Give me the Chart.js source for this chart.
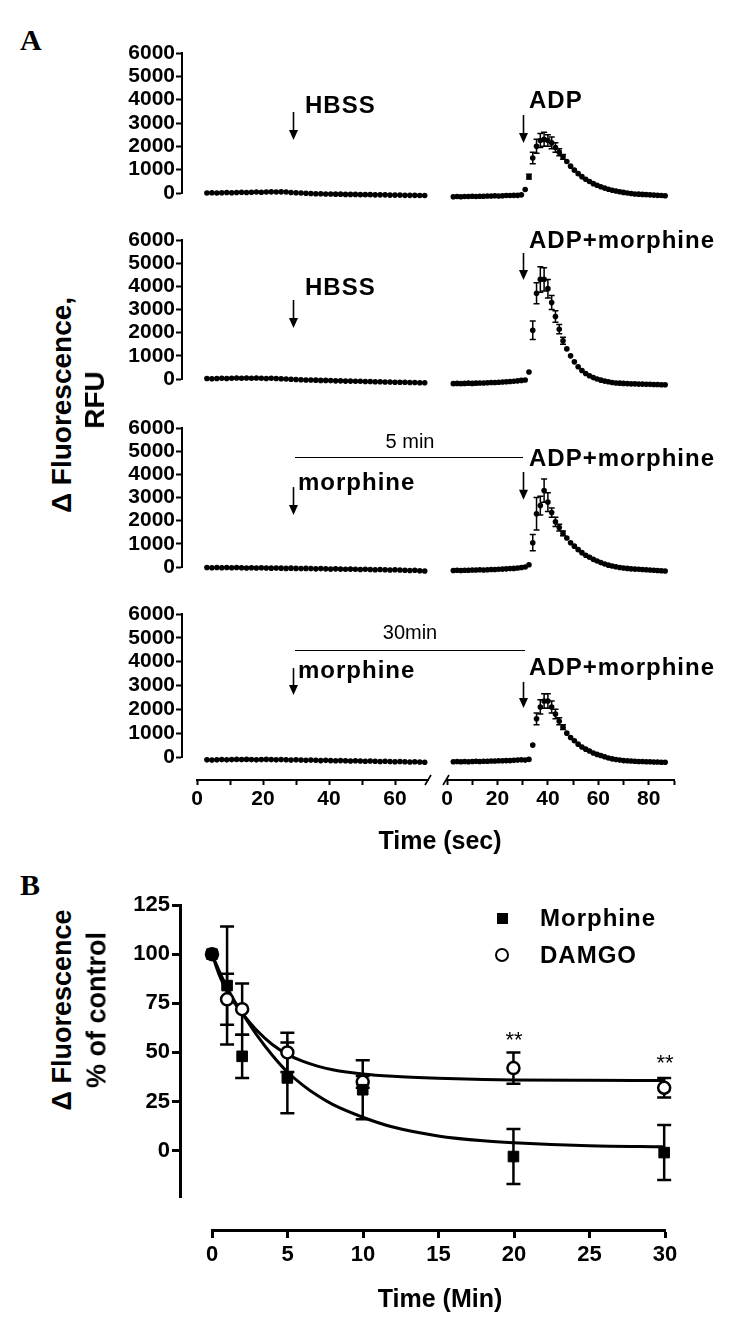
<!DOCTYPE html>
<html>
<head>
<meta charset="utf-8">
<script src="https://cdn.jsdelivr.net/npm/chart.js"></script>
<style>
  body { margin: 0; background: #fff; }
  #fig { position: relative; width: 750px; height: 1334px; background: #fff; overflow: hidden;
         font-family: "Liberation Sans", Arial, Helvetica, sans-serif; color: #000; }
  canvas { position: absolute; }
  .t { position: absolute; white-space: nowrap; line-height: 1; transform: translateY(-50%); }
  .c { transform: translate(-50%, -50%); }
  .rot { position: absolute; white-space: nowrap; line-height: 1; font-weight: bold;
         transform: translate(-50%, -50%) rotate(-90deg); }
  .hl { position: absolute; height: 0; border-top: 1.5px solid #000; }
</style>
</head>
<body>
<div id="fig"></div>
<script>
// ---- Panel A data (time in sec, delta fluorescence in RFU) ----
const leftTime = [3,4.5,6,7.5,9,10.5,12,13.5,15,16.5,18,19.5,21,22.5,24,25.5,27,28.5,30,31.5,33,34.5,36,37.5,39,40.5,42,43.5,45,46.5,48,49.5,51,52.5,54,55.5,57,58.5,60,61.5,63,64.5,66,67.5,69];
const rightTime = [2.5,4,5.5,7,8.5,10,11.5,13,14.5,16,17.5,19,20.5,22,23.5,25,26.5,28,29.5,31,32.5,34,35.5,37,38.5,40,41.5,43,44.5,46,47.5,49,50.5,52,53.5,55,56.5,58,59.5,61,62.5,64,65.5,67,68.5,70,71.5,73,74.5,76,77.5,79,80.5,82,83.5,85,86.5];
const peakTime = [32.5,34,35.5,37,38.5,40,41.5,43,44.5,46];

// row 1: HBSS then ADP
const row1Left = [0,10,0,10,20,10,20,30,20,30,40,30,40,50,40,50,40,20,10,0,-10,-20,-30,-30,-40,-40,-50,-50,-60,-60,-60,-70,-70,-70,-80,-80,-80,-90,-90,-90,-100,-100,-100,-110,-110];
const row1Right = [-160,-150,-160,-150,-150,-140,-150,-140,-140,-130,-130,-120,-130,-120,-110,-110,-100,-100,-80,150,700,1500,2000,2250,2300,2250,2150,1950,1750,1550,1350,1150,980,830,700,590,490,400,330,270,210,160,120,85,55,25,0,-20,-40,-50,-60,-70,-80,-90,-100,-110,-120];
const row1Err = [100,250,300,300,300,250,250,200,150,100];

// row 2: HBSS then ADP+morphine
const row2Left = [20,10,20,30,20,30,40,30,40,30,40,30,20,30,20,10,0,-10,-20,-30,-40,-40,-50,-60,-60,-70,-80,-80,-90,-90,-100,-100,-110,-110,-120,-120,-130,-130,-140,-140,-140,-150,-150,-160,-160];
const row2Right = [-200,-190,-200,-190,-180,-190,-180,-170,-170,-160,-150,-150,-140,-130,-120,-110,-100,-80,-60,-40,300,2100,3700,4300,4300,3900,3300,2700,2150,1650,1300,1000,740,530,370,240,140,60,0,-50,-90,-120,-150,-170,-180,-190,-200,-210,-210,-220,-220,-230,-230,-240,-240,-250,-250];
const row2Err = [0,400,450,550,500,400,300,250,200,150];

// row 3: morphine 5 min, then ADP+morphine
const row3Left = [-20,-30,-20,-30,-20,-30,-20,-30,-40,-30,-40,-30,-40,-50,-40,-50,-60,-50,-60,-70,-60,-70,-80,-70,-80,-90,-80,-90,-100,-90,-100,-110,-100,-110,-120,-110,-120,-130,-120,-130,-140,-150,-140,-160,-170];
const row3Right = [-150,-140,-150,-140,-140,-130,-130,-120,-130,-120,-110,-110,-100,-90,-80,-70,-60,-40,-20,0,100,1050,2300,2650,3300,2800,2350,1950,1700,1450,1250,1050,900,750,620,510,420,330,260,190,130,80,40,10,-20,-40,-60,-80,-90,-100,-110,-120,-130,-140,-150,-160,-170];
const row3Err = [0,350,700,400,500,400,200,200,150,100];

// row 4: morphine 30 min, then ADP+morphine
const row4Left = [-120,-130,-120,-110,-120,-110,-100,-110,-100,-110,-120,-110,-100,-110,-120,-110,-120,-130,-120,-130,-140,-130,-140,-150,-140,-150,-160,-150,-160,-170,-160,-170,-180,-170,-180,-190,-180,-190,-200,-190,-200,-210,-200,-210,-220];
const row4Right = [-200,-190,-200,-190,-200,-190,-180,-190,-180,-180,-170,-170,-160,-160,-150,-150,-140,-130,-120,-130,-100,500,1600,2100,2350,2350,2100,1800,1500,1250,1000,820,680,540,420,330,250,170,110,60,10,-40,-80,-110,-130,-150,-160,-170,-180,-190,-190,-200,-200,-210,-210,-220,-220];
const row4Err = [0,0,250,300,300,300,250,200,150,100];

const yTicksA = [0, 1000, 2000, 3000, 4000, 5000, 6000];

// ---- Panel B data (time in min, % of control) ----
const bTime = [0, 1, 2, 5, 10, 20, 30];
const morphine = [100, 84, 48, 37, 31, -3, -1];
const morphineErr = [0, 30, 11, 18, 15, 14, 14];
const damgo = [100, 77, 72, 50, 35, 42, 32];
const damgoErr = [0, 13, 13, 10, 3, 8, 5];
const fitTime = [0, 0.5, 1, 1.5, 2, 3, 4, 5, 6, 7, 8, 10, 12, 15, 18, 20, 25, 30];
const morphineFit = [100, 91, 83, 76, 70, 58.5, 48.5, 40, 33.5, 28, 23.5, 17, 12, 7.5, 5, 4, 2.5, 2];
const damgoFit = [100, 89, 81, 75, 70, 61, 54, 49, 45.5, 43, 41.2, 39, 37.8, 36.8, 36.2, 36, 35.8, 35.7];

const FONT = '"Liberation Sans", Arial, Helvetica, sans-serif';
const fig = document.getElementById('fig');

function makeCanvas(left, top, w, h) {
  const c = document.createElement('canvas');
  c.width = w; c.height = h;
  c.style.left = left + 'px'; c.style.top = top + 'px';
  c.style.width = w + 'px'; c.style.height = h + 'px';
  fig.appendChild(c);
  return c;
}

function addText(txt, x, y, size, opts = {}) {
  const d = document.createElement('div');
  d.className = opts.center ? 't c' : 't';
  d.textContent = txt;
  d.style.left = x + 'px'; d.style.top = y + 'px';
  d.style.fontSize = size + 'px';
  d.style.fontWeight = opts.normal ? 'normal' : 'bold';
  if (opts.family) d.style.fontFamily = opts.family;
  if (opts.spacing) d.style.letterSpacing = opts.spacing + 'px';
  fig.appendChild(d);
  return d;
}

function addRotated(txt, cx, cy, size) {
  const d = document.createElement('div');
  d.className = 'rot';
  d.textContent = txt;
  d.style.left = cx + 'px'; d.style.top = cy + 'px';
  d.style.fontSize = size + 'px';
  fig.appendChild(d);
}

function addLine(x1, x2, y) {
  const d = document.createElement('div');
  d.className = 'hl';
  d.style.left = x1 + 'px'; d.style.top = y + 'px'; d.style.width = (x2 - x1) + 'px';
  fig.appendChild(d);
}

function toPoints(xs, ys) {
  return xs.map((x, i) => ({ x: x, y: ys[i] }));
}

// error bars for one dataset, drawn under the markers
function errorBars(dsIndex, times, errs, cap, width) {
  return {
    id: 'errorBars' + dsIndex,
    beforeDatasetsDraw(chart) {
      const { ctx, scales: { x, y } } = chart;
      const pts = chart.data.datasets[dsIndex].data;
      ctx.save();
      ctx.strokeStyle = '#000';
      ctx.lineWidth = width;
      times.forEach((t, i) => {
        const p = pts.find(d => d.x === t);
        if (!p || !errs[i]) return;
        const px = x.getPixelForValue(t);
        const y1 = y.getPixelForValue(p.y + errs[i]);
        const y2 = y.getPixelForValue(p.y - errs[i]);
        ctx.beginPath();
        ctx.moveTo(px, y1); ctx.lineTo(px, y2);
        ctx.moveTo(px - cap, y1); ctx.lineTo(px + cap, y1);
        ctx.moveTo(px - cap, y2); ctx.lineTo(px + cap, y2);
        ctx.stroke();
      });
      ctx.restore();
    }
  };
}

// down arrow marking the addition time
function arrowMark(t, yTop, yBot) {
  return {
    id: 'arrowMark',
    afterDraw(chart) {
      const { ctx, scales: { x, y } } = chart;
      const px = Math.round(x.getPixelForValue(t)) + 0.5;
      const a = y.getPixelForValue(yTop), b = y.getPixelForValue(yBot);
      ctx.save();
      ctx.strokeStyle = '#000'; ctx.fillStyle = '#000'; ctx.lineWidth = 1.6;
      ctx.beginPath(); ctx.moveTo(px, a); ctx.lineTo(px, b - 8); ctx.stroke();
      ctx.beginPath(); ctx.moveTo(px - 4.5, b - 10); ctx.lineTo(px + 4.5, b - 10); ctx.lineTo(px, b); ctx.closePath(); ctx.fill();
      ctx.restore();
    }
  };
}

const baseOpts = { responsive: false, animation: false, events: [],
  plugins: { legend: { display: false }, tooltip: { enabled: false } } };

// dots a few px below the zero line sit outside the chart area, so give them a wide margin
// (this also makes Chart.js keep at least 14px padding on every side)
function dotSet(xs, ys) {
  return { data: toPoints(xs, ys), showLine: false, pointRadius: 2.8, pointHoverRadius: 14,
           pointBackgroundColor: '#000', pointBorderWidth: 0, clip: false };
}

// ---- Panel A rows ----
const rows = [
  { top: 53, h: 140, left: row1Left, right: row1Right, err: row1Err, arrL: [29, 3470, 2270], arrR: [30, 3340, 2140] },
  { top: 240, h: 139, left: row2Left, right: row2Right, err: row2Err, arrL: [29, 3410, 2200], arrR: [30, 5440, 4270] },
  { top: 428, h: 139, left: row3Left, right: row3Right, err: row3Err, arrL: [29, 3450, 2240], arrR: [30, 4100, 2900] },
  { top: 614, h: 143, left: row4Left, right: row4Right, err: row4Err, arrL: [29, 3730, 2600], arrR: [30, 3150, 2060] }
];

rows.forEach(r => {
  const cTop = r.top - 14;
  const cH = r.h + 30;
  // chart area 182..428 px on the page
  new Chart(makeCanvas(100, cTop, 344, cH), {
    type: 'scatter',
    data: { datasets: [dotSet(leftTime, r.left)] },
    options: Object.assign({}, baseOpts, {
      layout: { padding: { top: 14, bottom: 16, left: 0, right: 16 } },
      scales: {
        x: { type: 'linear', min: -4.55, max: 70, display: false },
        y: {
          min: 0, max: 6000,
          afterBuildTicks(s) { s.ticks = yTicksA.map(v => ({ value: v })); },
          afterFit(s) { s.width = 82; },
          ticks: { autoSkip: false, color: '#000', padding: 1, font: { family: FONT, weight: 'bold', size: 21 },
                   callback: v => String(v) },
          grid: { drawOnChartArea: false, tickLength: 6, tickWidth: 2, tickColor: '#000' },
          border: { color: '#000', width: 2 }
        }
      }
    }),
    plugins: [arrowMark(r.arrL[0], r.arrL[1], r.arrL[2])]
  });
  // chart area 447..674 px on the page
  new Chart(makeCanvas(430, cTop, 262, cH), {
    type: 'scatter',
    data: { datasets: [dotSet(rightTime, r.right)] },
    options: Object.assign({}, baseOpts, {
      layout: { padding: { top: 14, bottom: 16, left: 17, right: 18 } },
      scales: {
        x: { type: 'linear', min: 0, max: 90, display: false },
        y: { min: 0, max: 6000, display: false }
      }
    }),
    plugins: [errorBars(0, peakTime, r.err, 3, 1.5), arrowMark(r.arrR[0], r.arrR[1], r.arrR[2])]
  });
});

// ---- Panel A broken time axis ----
function breakMark(side) {
  return {
    id: 'breakMark',
    afterDraw(chart) {
      const { ctx, chartArea: ca } = chart;
      const x = side === 'right' ? ca.right : ca.left - 1;
      ctx.save(); ctx.strokeStyle = '#000'; ctx.lineWidth = 1.6;
      ctx.beginPath(); ctx.moveTo(x - 3, ca.bottom + 5); ctx.lineTo(x + 3, ca.bottom - 5); ctx.stroke();
      ctx.restore();
    }
  };
}

function timeAxis(left, w, padL, padR, max, lastTick, labelStep) {
  return new Chart(makeCanvas(left, 760, w, 70), {
    type: 'scatter',
    data: { datasets: [{ data: [] }] },
    options: Object.assign({}, baseOpts, {
      layout: { padding: { top: 18, bottom: 0, left: padL, right: padR } },
      scales: {
        x: {
          type: 'linear', min: 0, max: max,
          afterBuildTicks(s) { s.ticks = s.ticks.filter(t => t.value <= lastTick); },
          afterFit(s) { s.height = 50; },
          ticks: { stepSize: 10, autoSkip: false, maxRotation: 0, color: '#000', padding: 2,
                   font: { family: FONT, weight: 'bold', size: 21 },
                   callback: v => (v % labelStep === 0 ? String(v) : '') },
          grid: { drawOnChartArea: false, tickLength: 5, tickWidth: 2, tickColor: '#000' },
          border: { color: '#000', width: 2 }
        },
        y: { display: false, min: 0, max: 1 }
      }
    }),
    plugins: [breakMark(left < 300 ? 'right' : 'left')]
  });
}
timeAxis(100, 340, 97, 12, 70, 60, 20);
timeAxis(430, 270, 17, 26, 90, 90, 20);

// ---- Panel B ----
new Chart(makeCanvas(100, 880, 600, 333), {
  type: 'scatter',
  data: {
    datasets: [
      { data: toPoints(fitTime, morphineFit), showLine: true, pointRadius: 0, borderColor: '#000', borderWidth: 3,
        cubicInterpolationMode: 'monotone', order: 3 },
      { data: toPoints(fitTime, damgoFit), showLine: true, pointRadius: 0, borderColor: '#000', borderWidth: 3,
        cubicInterpolationMode: 'monotone', order: 3 },
      { data: toPoints(bTime, morphine), showLine: false, pointStyle: 'rect', pointRadius: 7.5,
        pointBackgroundColor: '#000', pointBorderColor: '#000', pointBorderWidth: 1, order: 1, clip: false },
      { data: toPoints(bTime, damgo), showLine: false, pointStyle: 'circle', pointRadius: 6,
        pointBackgroundColor: '#fff', pointBorderColor: '#000', pointBorderWidth: 2.5, order: 2, clip: false }
    ]
  },
  options: Object.assign({}, baseOpts, {
    layout: { padding: { top: 25, bottom: 15, left: 0, right: 20 } },
    scales: {
      x: { type: 'linear', min: -2.123, max: 31.05, display: false },
      y: {
        min: -24, max: 125,
        afterBuildTicks(s) { s.ticks = [0, 25, 50, 75, 100, 125].map(v => ({ value: v })); },
        afterFit(s) { s.width = 80; },
        ticks: { autoSkip: false, color: '#000', padding: 2, font: { family: FONT, weight: 'bold', size: 22 },
                 callback: v => String(v) },
        grid: { drawOnChartArea: false, tickLength: 8, tickWidth: 3, tickColor: '#000' },
        border: { color: '#000', width: 3 }
      }
    }
  }),
  plugins: [errorBars(2, bTime, morphineErr, 7, 2.5), errorBars(3, bTime, damgoErr, 7, 2.5)]
});

new Chart(makeCanvas(150, 1210, 560, 80), {
  type: 'scatter',
  data: { datasets: [{ data: [] }] },
  options: Object.assign({}, baseOpts, {
    layout: { padding: { top: 18, bottom: 0, left: 62, right: 45 } },
    scales: {
      x: {
        type: 'linear', min: 0, max: 30,
        afterFit(s) { s.height = 60; },
        ticks: { stepSize: 5, autoSkip: false, maxRotation: 0, color: '#000', padding: 4,
                 font: { family: FONT, weight: 'bold', size: 22 } },
        grid: { drawOnChartArea: false, tickLength: 8, tickWidth: 3, tickColor: '#000' },
        border: { color: '#000', width: 3 }
      },
      y: { display: false, min: 0, max: 1 }
    }
  })
});

// ---- text and annotations ----
addText('A', 20, 40, 30, { family: '"Liberation Serif", "Times New Roman", serif' });
addText('B', 20, 885, 30, { family: '"Liberation Serif", "Times New Roman", serif' });

addRotated('\u0394 Fluorescence,', 62, 405, 28);
addRotated('RFU', 95, 400, 28);
addText('Time (sec)', 440, 840, 25, { center: true });

addText('HBSS', 305, 105, 24, { spacing: 1 });
addText('ADP', 529, 100, 24, { spacing: 1 });
addText('HBSS', 305, 287, 24, { spacing: 1 });
addText('ADP+morphine', 529, 240, 24, { spacing: 1 });
addText('5 min', 410, 441, 20, { center: true, normal: true });
addLine(295, 523, 457);
addText('morphine', 298, 482, 24, { spacing: 1 });
addText('ADP+morphine', 529, 458, 24, { spacing: 1 });
addText('30min', 410, 632, 20, { center: true, normal: true });
addLine(295, 525, 650);
addText('morphine', 298, 670, 24, { spacing: 1 });
addText('ADP+morphine', 529, 667, 24, { spacing: 1 });

addRotated('\u0394 Fluorescence', 62, 1010, 27);
addRotated('% of control', 97, 1010, 27);
addText('Time (Min)', 440, 1298, 25, { center: true });

// legend
const sq = document.createElement('div');
sq.style.cssText = 'position:absolute;left:497px;top:913px;width:11px;height:11px;background:#000;';
fig.appendChild(sq);
const ci = document.createElement('div');
ci.style.cssText = 'position:absolute;left:495px;top:948px;width:10px;height:10px;border:2.5px solid #000;border-radius:50%;background:#fff;';
fig.appendChild(ci);
addText('Morphine', 540, 918, 24, { spacing: 1 });
addText('DAMGO', 540, 955, 24, { spacing: 1 });

addText('**', 514, 1040, 22, { center: true, normal: true });
addText('**', 665, 1063, 22, { center: true, normal: true });
</script>
</body>
</html>
